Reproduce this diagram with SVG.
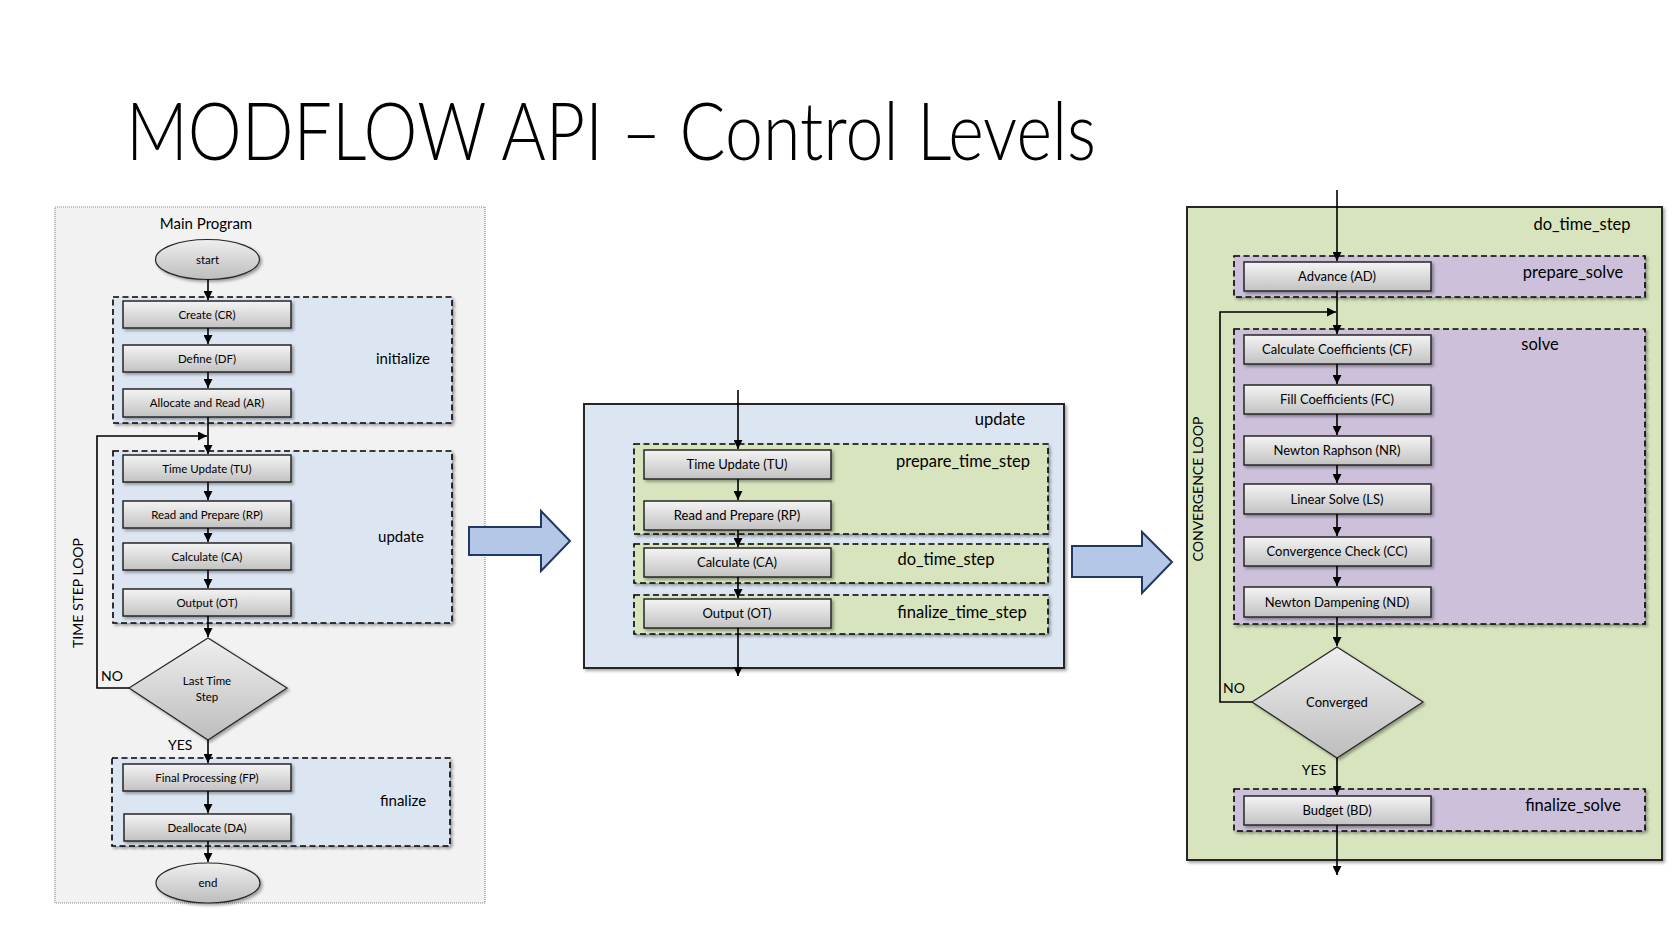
<svg xmlns="http://www.w3.org/2000/svg" width="1676" height="939" viewBox="0 0 1676 939">
<defs>
<linearGradient id="gNode" x1="0" y1="0" x2="0" y2="1">
<stop offset="0" stop-color="#f4f4f4"/><stop offset="1" stop-color="#c2c2c2"/>
</linearGradient>
<linearGradient id="gDia" x1="0" y1="0" x2="0" y2="1">
<stop offset="0" stop-color="#efefef"/><stop offset="1" stop-color="#bdbdbd"/>
</linearGradient>
<filter id="sh" x="-10%" y="-10%" width="130%" height="140%">
<feDropShadow dx="2" dy="2" stdDeviation="1.5" flood-color="#000" flood-opacity="0.35"/>
</filter>
<marker id="ah" viewBox="0 0 10 10" refX="10" refY="5" markerWidth="9" markerHeight="9" markerUnits="userSpaceOnUse" orient="auto">
<path d="M0,0 L10,5 L0,10 z" fill="#000"/>
</marker>
<style>
text{font-family:Lato,"Open Sans","Liberation Sans",sans-serif;fill:#000}
.node{fill:url(#gNode);stroke:#262626;stroke-width:1.5;filter:url(#sh)}
.dia{fill:url(#gDia);stroke:#262626;stroke-width:1.2;filter:url(#sh)}
.nt{font-size:11.5px;text-anchor:middle}
.nt2{font-size:13px;text-anchor:middle}
.blue{fill:#dce6f2}
.green{fill:#d7e4bd}
.purple{fill:#ccc0da}
.dash{stroke:#000;stroke-width:1.6;stroke-dasharray:6,3.5;filter:url(#sh)}
.solid{stroke:#262626;stroke-width:2;filter:url(#sh)}
.gl{font-size:15px;text-anchor:middle}
.gl2{font-size:16.5px;text-anchor:middle}
.lbl{font-size:14px}
.con{fill:none;stroke:#000;stroke-width:1.6;marker-end:url(#ah)}
.line{fill:none;stroke:#000;stroke-width:1.6}
.big{fill:#b4c7e7;stroke:#203864;stroke-width:2}
</style>
</defs>
<rect width="1676" height="939" fill="#fff"/>
<text x="126" y="160" font-size="80" font-weight="300" textLength="970" lengthAdjust="spacingAndGlyphs">MODFLOW API – Control Levels</text>

<!-- LEFT PANEL -->
<g id="main-program">
<rect x="55" y="207" width="430" height="696" fill="#f2f2f2" stroke="#8c8c8c" stroke-width="1.2" stroke-dasharray="1,1"/>
<text x="206" y="229" font-size="15" text-anchor="middle">Main Program</text>
</g>
<g id="initialize">
<rect x="113" y="297" width="339" height="126" class="blue dash"/>
<text x="403" y="364" class="gl">initialize</text>
</g>
<g id="update-left">
<rect x="113" y="451" width="339" height="172" class="blue dash"/>
<text x="401" y="542" class="gl">update</text>
</g>
<g id="finalize">
<rect x="112" y="758" width="338" height="88" class="blue dash"/>
<text x="403" y="806" class="gl">finalize</text>
</g>
<g id="start"><ellipse cx="207.5" cy="259.5" rx="52" ry="20" class="dia"/><text x="207.5" y="263.5" class="nt">start</text></g>
<g id="create"><rect x="123" y="301" width="168" height="27" class="node"/><text x="207" y="318.5" class="nt">Create (CR)</text></g>
<g id="define"><rect x="123" y="345" width="168" height="27" class="node"/><text x="207" y="362.5" class="nt">Define (DF)</text></g>
<g id="allocate"><rect x="123" y="389" width="168" height="28" class="node"/><text x="207" y="407" class="nt">Allocate and Read (AR)</text></g>
<g id="tu-left"><rect x="123" y="455" width="168" height="27" class="node"/><text x="207" y="472.5" class="nt">Time Update (TU)</text></g>
<g id="rp-left"><rect x="123" y="501" width="168" height="27" class="node"/><text x="207" y="518.5" class="nt">Read and Prepare (RP)</text></g>
<g id="ca-left"><rect x="123" y="543" width="168" height="27" class="node"/><text x="207" y="560.5" class="nt">Calculate (CA)</text></g>
<g id="ot-left"><rect x="123" y="589" width="168" height="27" class="node"/><text x="207" y="606.5" class="nt">Output (OT)</text></g>
<g id="last-time-step"><polygon points="208,638 287,688 208,740 129,688" class="dia"/><text x="207" y="685" class="nt" font-size="11">Last Time</text><text x="207" y="701" class="nt" font-size="11">Step</text></g>
<g id="fp"><rect x="123" y="764" width="168" height="27" class="node"/><text x="207" y="781.5" class="nt">Final Processing (FP)</text></g>
<g id="da"><rect x="124" y="814" width="167" height="27" class="node"/><text x="207" y="831.5" class="nt">Deallocate (DA)</text></g>
<g id="end"><ellipse cx="208" cy="883" rx="52" ry="20" class="dia"/><text x="208" y="887" class="nt">end</text></g>
<text x="0" y="0" class="lbl" text-anchor="middle" transform="translate(83 593) rotate(-90)">TIME STEP LOOP</text>
<text x="101" y="681" class="lbl">NO</text>
<text x="168" y="750" class="lbl">YES</text>

<!-- MIDDLE PANEL -->
<g id="update-mid">
<rect x="584" y="404" width="480" height="264" class="blue solid"/>
<text x="1000" y="425" class="gl2">update</text>
</g>
<g id="prepare_time_step">
<rect x="634" y="444" width="414" height="90" class="green dash"/>
<text x="963" y="467" class="gl2">prepare_time_step</text>
</g>
<g id="do_time_step-mid">
<rect x="634" y="544" width="414" height="39" class="green dash"/>
<text x="946" y="565" class="gl2">do_time_step</text>
</g>
<g id="finalize_time_step">
<rect x="634" y="595" width="414" height="39" class="green dash"/>
<text x="962" y="618" class="gl2">finalize_time_step</text>
</g>
<g id="tu-mid"><rect x="644" y="450" width="187" height="29" class="node"/><text x="737" y="469" class="nt2">Time Update (TU)</text></g>
<g id="rp-mid"><rect x="644" y="501" width="187" height="29" class="node"/><text x="737" y="520" class="nt2">Read and Prepare (RP)</text></g>
<g id="ca-mid"><rect x="644" y="548" width="187" height="29" class="node"/><text x="737" y="567" class="nt2">Calculate (CA)</text></g>
<g id="ot-mid"><rect x="644" y="599" width="187" height="29" class="node"/><text x="737" y="618" class="nt2">Output (OT)</text></g>

<!-- RIGHT PANEL -->
<g id="do_time_step-right">
<rect x="1187" y="207" width="475" height="653" class="green solid"/>
<text x="1582" y="230" class="gl2">do_time_step</text>
</g>
<g id="prepare_solve">
<rect x="1234" y="256" width="411" height="41" class="purple dash"/>
<text x="1573" y="278" class="gl2">prepare_solve</text>
</g>
<g id="solve">
<rect x="1234" y="329" width="411" height="295" class="purple dash"/>
<text x="1540" y="350" class="gl2">solve</text>
</g>
<g id="finalize_solve">
<rect x="1234" y="789" width="411" height="42" class="purple dash"/>
<text x="1573" y="811" class="gl2">finalize_solve</text>
</g>
<g id="ad"><rect x="1244" y="262" width="187" height="29" class="node"/><text x="1337" y="281" class="nt2" font-size="12.5">Advance (AD)</text></g>
<g id="cf"><rect x="1244" y="335" width="187" height="29" class="node"/><text x="1337" y="354" class="nt2" font-size="12.5">Calculate Coefficients (CF)</text></g>
<g id="fc"><rect x="1244" y="385" width="187" height="29" class="node"/><text x="1337" y="404" class="nt2" font-size="12.5">Fill Coefficients (FC)</text></g>
<g id="nr"><rect x="1244" y="436" width="187" height="29" class="node"/><text x="1337" y="455" class="nt2" font-size="12.5">Newton Raphson (NR)</text></g>
<g id="ls"><rect x="1244" y="484" width="187" height="30" class="node"/><text x="1337" y="503.5" class="nt2" font-size="12.5">Linear Solve (LS)</text></g>
<g id="cc"><rect x="1244" y="537" width="187" height="29" class="node"/><text x="1337" y="556" class="nt2" font-size="12.5">Convergence Check (CC)</text></g>
<g id="nd"><rect x="1244" y="587" width="187" height="30" class="node"/><text x="1337" y="606.5" class="nt2" font-size="12.5">Newton Dampening (ND)</text></g>
<g id="converged"><polygon points="1337,647 1423,702 1337,758 1252,702" class="dia"/><text x="1337" y="707" class="nt2" font-size="12.5">Converged</text></g>
<g id="bd"><rect x="1244" y="796" width="187" height="29" class="node"/><text x="1337" y="815" class="nt2" font-size="12.5">Budget (BD)</text></g>
<text x="0" y="0" class="lbl" text-anchor="middle" transform="translate(1203 489) rotate(-90)">CONVERGENCE LOOP</text>
<text x="1223" y="693" class="lbl" font-size="15">NO</text>
<text x="1314" y="775" class="lbl" font-size="15" text-anchor="middle">YES</text>

<!-- BIG ARROWS -->
<g id="arrow1"><polygon points="469,527 541,527 541,511 570,541 541,571 541,555 469,555" class="big"/></g>
<g id="arrow2"><polygon points="1072,546 1142,546 1142,532 1172,562 1142,593 1142,577 1072,577" class="big"/></g>

<!-- CONNECTORS -->
<g id="connectors">
<path class="con" d="M208,279 V300"/>
<path class="con" d="M208,328 V344"/>
<path class="con" d="M208,372 V388"/>
<path class="con" d="M208,417 V454"/>
<path class="con" d="M208,482 V500"/>
<path class="con" d="M208,528 V542"/>
<path class="con" d="M208,570 V588"/>
<path class="con" d="M208,616 V637"/>
<path class="con" d="M208,740 V763"/>
<path class="con" d="M208,791 V813"/>
<path class="con" d="M208,841 V862"/>
<path class="con" d="M129,688 H97 V436 H207"/>

<path class="con" d="M738,390 V449"/>
<path class="con" d="M738,479 V500"/>
<path class="con" d="M738,530 V547"/>
<path class="con" d="M738,577 V598"/>
<path class="con" d="M738,628 V676"/>

<path class="con" d="M1337,190 V261"/>
<path class="con" d="M1337,291 V334"/>
<path class="con" d="M1337,364 V384"/>
<path class="con" d="M1337,414 V435"/>
<path class="con" d="M1337,465 V483"/>
<path class="con" d="M1337,514 V536"/>
<path class="con" d="M1337,566 V586"/>
<path class="con" d="M1337,617 V646"/>
<path class="con" d="M1252,702 H1220 V312 H1336"/>
<path class="con" d="M1337,758 V795"/>
<path class="con" d="M1337,825 V875"/>
</g>
</svg>
